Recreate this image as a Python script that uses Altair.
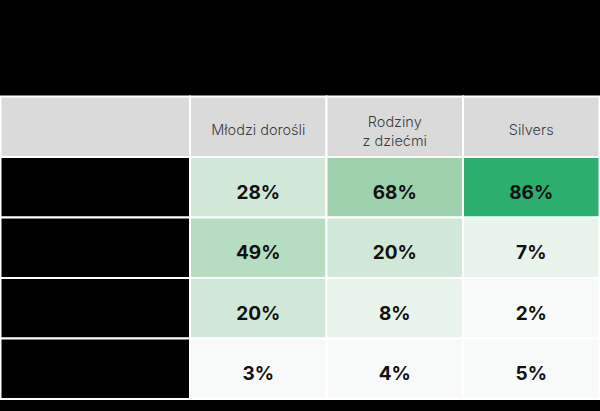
import altair as alt
import pandas as pd

# ---- data ----
segments = ["Młodzi dorośli", "Rodziny\nz dziećmi", "Silvers"]
row_ids = [1, 2, 3, 4]
vals_mlodzi = [28, 49, 20, 3]
vals_rodziny = [68, 20, 8, 4]
vals_silvers = [86, 7, 2, 5]

# ---- layout (table geometry) ----
W, H = 600, 411
top = 96.5
row_h = 60.5
col_edges = [0.5, 190, 326.5, 463, 599.5]

series = [vals_mlodzi, vals_rodziny, vals_silvers]

cells = []
cells.append(dict(x0=col_edges[0], x1=col_edges[1], y0=top, y1=top + row_h, fill="#dadada"))
for j, seg in enumerate(segments):
    cells.append(dict(x0=col_edges[j + 1], x1=col_edges[j + 2], y0=top, y1=top + row_h, fill="#dadada"))
for i, r in enumerate(row_ids):
    y0 = top + (i + 1) * row_h
    cells.append(dict(x0=col_edges[0], x1=col_edges[1], y0=y0, y1=y0 + row_h, fill="#000000"))
frame = pd.DataFrame(cells)

vcells = []
for j, seg in enumerate(segments):
    for i, r in enumerate(row_ids):
        y0 = top + (i + 1) * row_h
        v = series[j][i]
        vcells.append(dict(segment=seg, row=r, value=v, label=f"{v}%",
                           x0=col_edges[j + 1], x1=col_edges[j + 2],
                           y0=y0, y1=y0 + row_h,
                           xc=(col_edges[j + 1] + col_edges[j + 2]) / 2,
                           yc=y0 + row_h / 2 + 5.5))
vdf = pd.DataFrame(vcells)

hdr = pd.DataFrame([dict(text=seg.split("\n"),
                         xc=(col_edges[j + 1] + col_edges[j + 2]) / 2,
                         yc=top + row_h / 2 + 4 - (8 if "\n" in seg else 0))
                    for j, seg in enumerate(segments)])

xs = alt.Scale(domain=[0, W])
ys = alt.Scale(domain=[0, H], reverse=True)
noax = None

base_rect = alt.Chart(frame).mark_rect(stroke="white", strokeWidth=2).encode(
    x=alt.X("x0:Q", scale=xs, axis=noax), x2="x1:Q",
    y=alt.Y("y0:Q", scale=ys, axis=noax), y2="y1:Q",
    fill=alt.Fill("fill:N", scale=None),
)

val_rect = alt.Chart(vdf).mark_rect(stroke="white", strokeWidth=2).encode(
    x=alt.X("x0:Q", scale=xs, axis=noax), x2="x1:Q",
    y=alt.Y("y0:Q", scale=ys, axis=noax), y2="y1:Q",
    fill=alt.Fill("value:Q", legend=None,
                  scale=alt.Scale(type="threshold", domain=[6, 10, 30, 50, 70],
                                  range=["#f8faf9", "#e8f3eb", "#d1e8d8", "#b6dcc2", "#9dd0ac", "#2bae6e"])),
)

val_text = alt.Chart(vdf).mark_text(font="Inter", fontSize=19, fontWeight="bold",
                                    color="#111111", baseline="middle", align="center").encode(
    x=alt.X("xc:Q", scale=xs, axis=noax),
    y=alt.Y("yc:Q", scale=ys, axis=noax),
    text="label:N",
)

hdr_text = alt.Chart(hdr).mark_text(font="Inter", fontSize=14.5, fontWeight=300,
                                    color="#3a3a3a", baseline="middle", align="center",
                                    lineHeight=19).encode(
    x=alt.X("xc:Q", scale=xs, axis=noax),
    y=alt.Y("yc:Q", scale=ys, axis=noax),
    text="text",
)

chart = alt.layer(base_rect, val_rect, val_text, hdr_text).properties(
    width=W, height=H, padding=0, autosize=alt.AutoSizeParams(type="none"),
    background="black",
).configure_view(stroke=None)

chart.save("out.html", embed_options={"renderer": "svg", "actions": False})
